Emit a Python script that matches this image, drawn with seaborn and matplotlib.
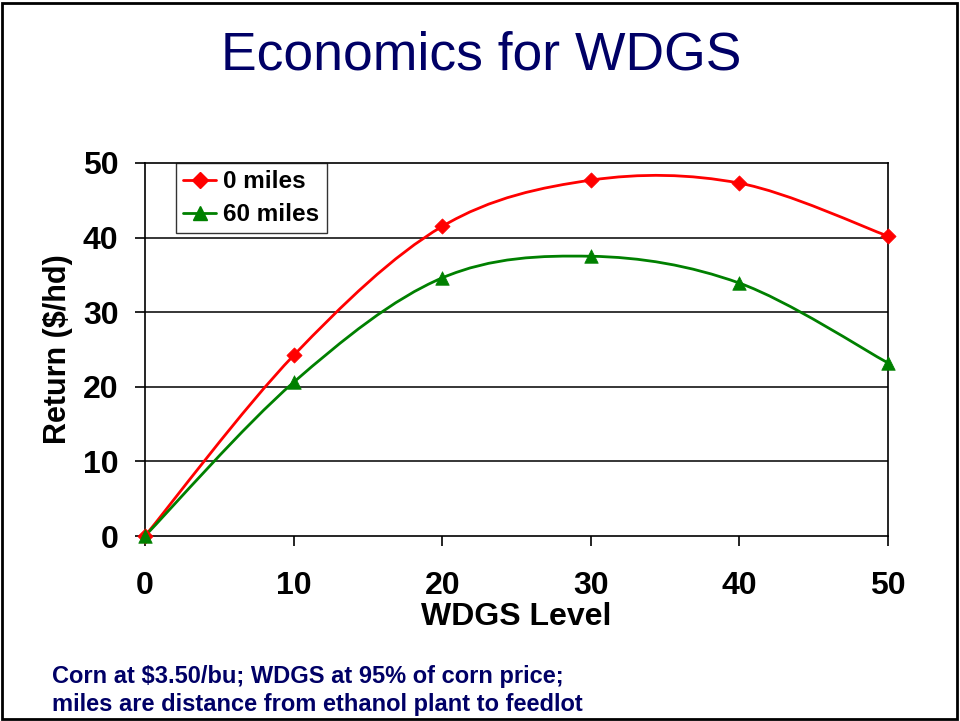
import numpy as np
import pandas as pd
import matplotlib
matplotlib.use("Agg")
import matplotlib.pyplot as plt
from matplotlib.path import Path
from matplotlib.patches import PathPatch, Rectangle
from matplotlib.lines import Line2D
import seaborn as sns

# Return ($/hd) by WDGS inclusion level
wdgs_level = [0, 10, 20, 30, 40, 50]
return_0_miles = [0.0, 24.2, 41.5, 47.7, 47.3, 40.2]
return_60_miles = [0.0, 20.6, 34.6, 37.5, 33.9, 23.2]
series_names = ["0 miles", "60 miles"]
x_ticks = [0, 10, 20, 30, 40, 50]
y_ticks = [0, 10, 20, 30, 40, 50]

title_text = "Economics for WDGS"
note_lines = ["Corn at $3.50/bu; WDGS at 95% of corn price;",
              "miles are distance from ethanol plant to feedlot"]

sns.set_style("white")
plt.rcParams["font.family"] = ["Liberation Sans", "DejaVu Sans"]
plt.rcParams["text.color"] = "black"
plt.rcParams["axes.labelcolor"] = "black"
plt.rcParams["xtick.color"] = "black"
plt.rcParams["ytick.color"] = "black"

df = pd.DataFrame({
    "level": wdgs_level * 2,
    "ret": return_0_miles + return_60_miles,
    "series": [series_names[0]] * 6 + [series_names[1]] * 6,
})

colors = {"0 miles": "#FF0000", "60 miles": "#008000"}
markers = {"0 miles": "D", "60 miles": "^"}
msizes = {"0 miles": 60, "60 miles": 95}

fig = plt.figure(figsize=(9.6, 7.21), dpi=100)
ax = fig.add_axes([145 / 960, 1 - 536 / 721, 743 / 960, 373 / 721])


def smooth_path(xs, ys):
    """Cubic Bezier path through the points (Catmull-Rom style tangents)."""
    pts = np.column_stack([xs, ys]).astype(float)
    n = len(pts)
    verts = [pts[0]]
    codes = [Path.MOVETO]
    for i in range(n - 1):
        p_prev = pts[i - 1] if i > 0 else pts[i]
        p0 = pts[i]
        p1 = pts[i + 1]
        p_next = pts[i + 2] if i + 2 < n else pts[i + 1]
        c1 = p0 + (p1 - p_prev) / 6.0
        c2 = p1 - (p_next - p0) / 6.0
        verts += [c1, c2, p1]
        codes += [Path.CURVE4] * 3
    return Path(verts, codes)


# horizontal gridlines
for yv in y_ticks[1:-1]:
    ax.axhline(yv, color="black", lw=1.1, zorder=1)

for name in series_names:
    sub = df[df["series"] == name]
    patch = PathPatch(smooth_path(sub["level"].values, sub["ret"].values),
                      facecolor="none", edgecolor=colors[name], lw=2.0,
                      zorder=3, clip_on=False)
    ax.add_patch(patch)
    sns.scatterplot(data=sub, x="level", y="ret", color=colors[name],
                    marker=markers[name], s=msizes[name], edgecolor=colors[name],
                    linewidth=0.5, ax=ax, zorder=4, clip_on=False, legend=False)

ax.set_xlim(0, 50)
ax.set_ylim(0, 50)
ax.set_xticks(x_ticks)
ax.set_yticks(y_ticks)
ax.set_xticklabels([str(v) for v in x_ticks], fontsize=23, fontweight="bold")
ax.set_yticklabels([str(v) for v in y_ticks], fontsize=23, fontweight="bold")
ax.tick_params(axis="x", direction="out", length=7, width=1.2, pad=18, color="black")
ax.tick_params(axis="y", direction="out", length=7, width=1.2, pad=12, color="black")
ax.tick_params(bottom=True, left=True)

for side in ["left", "bottom", "top", "right"]:
    ax.spines[side].set_color("black")
    ax.spines[side].set_linewidth(1.2)
    ax.spines[side].set_visible(True)

ax.set_xlabel("WDGS Level", fontsize=23, fontweight="bold", labelpad=1)
ax.set_ylabel("Return ($/hd)", fontsize=22, fontweight="bold", labelpad=7)

handles = [Line2D([0], [0], color=colors[n], lw=2, marker=markers[n],
                  markersize=8 if n == "0 miles" else 10) for n in series_names]
leg = ax.legend(handles, series_names, loc="upper left",
                bbox_to_anchor=(31 / 743, 1.0), frameon=True, fancybox=False,
                edgecolor="black", prop={"weight": "bold", "size": 17.5},
                handlelength=1.35, handletextpad=0.3, borderpad=0.3,
                labelspacing=0.4, borderaxespad=0)
leg.get_frame().set_linewidth(1.0)

fig.text(481 / 960, 1 - 55 / 721, title_text, ha="center", va="center",
         fontsize=38.5, color="#000066")
fig.text(52 / 960, 1 - 677 / 721, note_lines[0], ha="left", va="center",
         fontsize=17, fontweight="bold", color="#000066")
fig.text(52 / 960, 1 - 704 / 721, note_lines[1], ha="left", va="center",
         fontsize=17, fontweight="bold", color="#000066")

fig.patches.append(Rectangle((2 / 960, 2 / 721), 955 / 960, 716 / 721,
                             transform=fig.transFigure, fill=False,
                             edgecolor="black", lw=2.0))

fig.savefig("out.png", dpi=100)
